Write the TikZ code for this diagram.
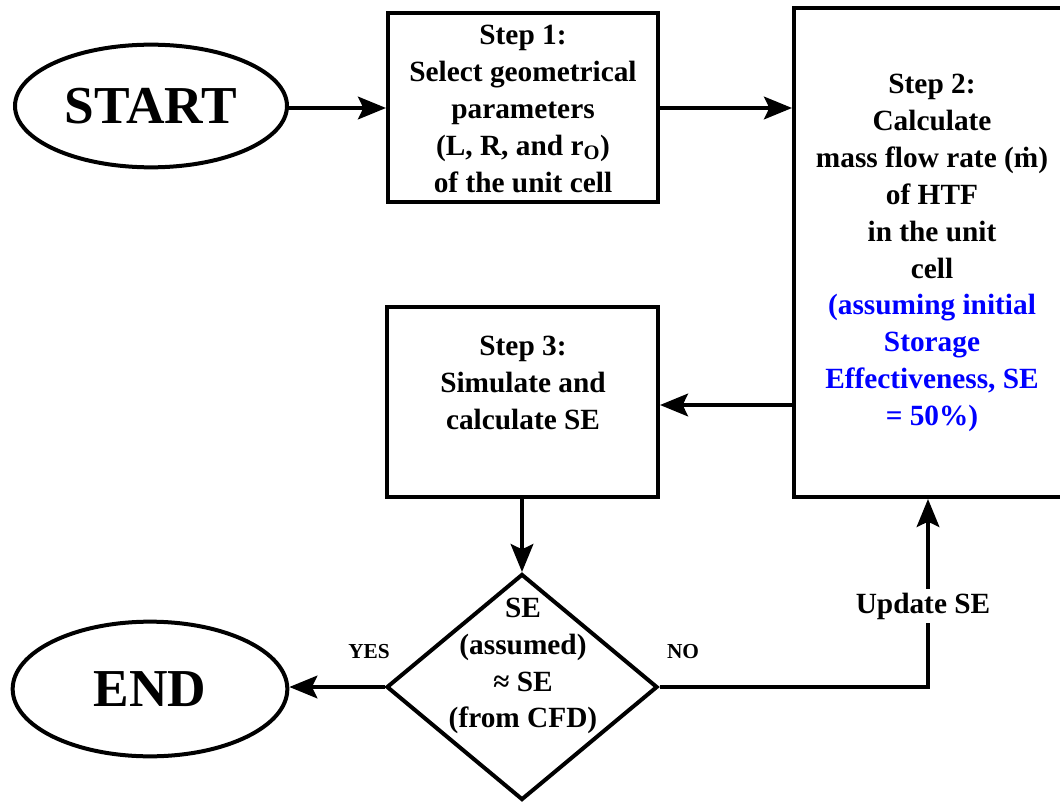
\documentclass[tikz,border=0pt]{standalone}
\usepackage{fontspec}
\setmainfont{Liberation Serif}
\usetikzlibrary{shapes.geometric,arrows.meta}
\begin{document}
\begin{tikzpicture}[x=0.75pt,y=-0.75pt,
  stepbox/.style={draw,line width=3pt,rectangle,inner sep=0pt},
  oval/.style={draw,line width=3pt,ellipse,inner sep=0pt,
    font=\fontsize{40}{48}\selectfont\bfseries},
  txt/.style={align=center,inner sep=0pt,
    font=\fontsize{22}{27.7}\selectfont\bfseries},
  flow/.style={line width=2.6pt,-{Stealth[length=21pt,width=17pt,inset=4pt]}},
  tag/.style={inner sep=0pt,font=\fontsize{16}{19}\selectfont\bfseries}]

\useasboundingbox (0,0) rectangle (1060,802);
\clip (0,0) rectangle (1060,802);

% terminals
\node[oval,minimum width=204pt,minimum height=92pt] (start) at (151,106) {START};
\node[oval,minimum width=206pt,minimum height=101pt] (end) at (150,689) {END};

% process boxes
\node[stepbox,minimum width=202.5pt,minimum height=141.75pt] (s1) at (523,107.5) {};
\node[txt] (s1t) at (523,109) {Step 1:\\Select geometrical\\parameters\\(L, R, and r\textsubscript{O})\\of the unit cell};

\node[stepbox,minimum width=207pt,minimum height=366.75pt] (s2) at (932,252.5) {};
\node[txt] (s2t) at (932,253) {Step 2:\\Calculate\\mass flow rate (ṁ)\\of HTF\\in the unit\\cell\\
  \textcolor{blue}{(assuming initial}\\\textcolor{blue}{Storage}\\
  \textcolor{blue}{Effectiveness, SE}\\\textcolor{blue}{= 50\%)}};

\node[stepbox,minimum width=203.25pt,minimum height=142.5pt] (s3) at (522.5,402) {};
\node[txt] (s3t) at (523,383) {Step 3:\\Simulate and\\calculate SE};

% decision
\node[draw,line width=3pt,diamond,inner sep=0pt,minimum width=203.25pt,
  minimum height=169.5pt] (dec) at (522,687) {};
\node[txt] (dect) at (523,666) {SE\\(assumed)\\≈ SE\\(from CFD)};

% connectors
\draw[flow] (start.east |- 0,108) -- (s1.west |- 0,108);
\draw[flow] (s1.east |- 0,108) -- (s2.west |- 0,108);
\draw[flow] (s2.west |- 0,405) -- (s3.east |- 0,405);
\draw[flow] (s3.south -| 522,0) -- (dec.north);
\draw[flow] (dec.west) -- (end.east |- dec.west);

\coordinate (turn) at (928,687);
\draw[flow] (dec.east) -- (turn) -- (turn |- s2.south);
\node[txt,fill=white,inner ysep=3pt,inner xsep=1pt] (upd) at (923,606) {Update SE};

% branch labels
\node[tag] (yes) at (369,652) {YES};
\node[tag] (no) at (683,652) {NO};
\end{tikzpicture}
\end{document}
